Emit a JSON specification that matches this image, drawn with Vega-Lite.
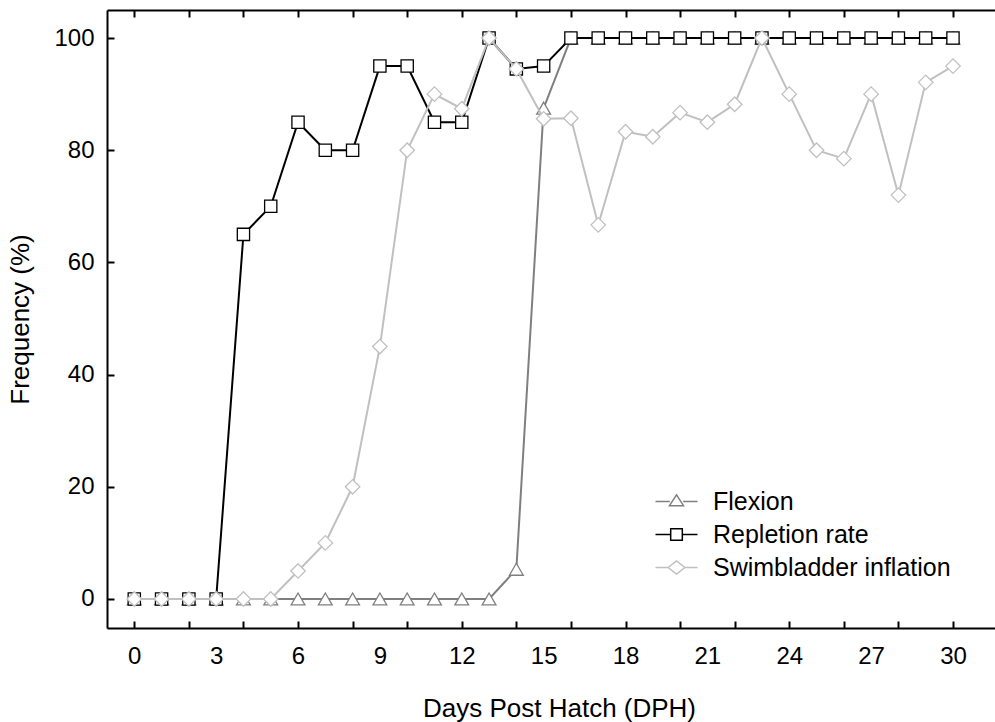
{
  "$schema": "https://vega.github.io/schema/vega-lite/v6.json",
  "width": 888,
  "height": 618,
  "autosize": {"type": "none"},
  "padding": {"left": 107, "top": 10, "right": 0, "bottom": 94},
  "background": "white",
  "config": {
    "view": {"stroke": null},
    "font": "Liberation Sans",
    "axis": {"grid": false, "domainColor": "black", "domainWidth": 2, "tickColor": "black", "tickWidth": 2, "labelColor": "black", "titleColor": "black", "labelFont": "Liberation Sans", "titleFont": "Liberation Sans", "labelFontSize": 24, "titleFontSize": 26, "titleFontWeight": "normal"}
  },
  "data": {
    "values": [
      {"day": 0, "series": "Flexion", "value": 0},
      {"day": 1, "series": "Flexion", "value": 0},
      {"day": 2, "series": "Flexion", "value": 0},
      {"day": 3, "series": "Flexion", "value": 0},
      {"day": 4, "series": "Flexion", "value": 0},
      {"day": 5, "series": "Flexion", "value": 0},
      {"day": 6, "series": "Flexion", "value": 0},
      {"day": 7, "series": "Flexion", "value": 0},
      {"day": 8, "series": "Flexion", "value": 0},
      {"day": 9, "series": "Flexion", "value": 0},
      {"day": 10, "series": "Flexion", "value": 0},
      {"day": 11, "series": "Flexion", "value": 0},
      {"day": 12, "series": "Flexion", "value": 0},
      {"day": 13, "series": "Flexion", "value": 0},
      {"day": 14, "series": "Flexion", "value": 5.3},
      {"day": 15, "series": "Flexion", "value": 87.5},
      {"day": 16, "series": "Flexion", "value": 100},
      {"day": 17, "series": "Flexion", "value": 100},
      {"day": 18, "series": "Flexion", "value": 100},
      {"day": 19, "series": "Flexion", "value": 100},
      {"day": 20, "series": "Flexion", "value": 100},
      {"day": 21, "series": "Flexion", "value": 100},
      {"day": 22, "series": "Flexion", "value": 100},
      {"day": 23, "series": "Flexion", "value": 100},
      {"day": 24, "series": "Flexion", "value": 100},
      {"day": 25, "series": "Flexion", "value": 100},
      {"day": 26, "series": "Flexion", "value": 100},
      {"day": 27, "series": "Flexion", "value": 100},
      {"day": 28, "series": "Flexion", "value": 100},
      {"day": 29, "series": "Flexion", "value": 100},
      {"day": 30, "series": "Flexion", "value": 100},
      {"day": 0, "series": "Repletion rate", "value": 0},
      {"day": 1, "series": "Repletion rate", "value": 0},
      {"day": 2, "series": "Repletion rate", "value": 0},
      {"day": 3, "series": "Repletion rate", "value": 0},
      {"day": 4, "series": "Repletion rate", "value": 65},
      {"day": 5, "series": "Repletion rate", "value": 70},
      {"day": 6, "series": "Repletion rate", "value": 85},
      {"day": 7, "series": "Repletion rate", "value": 80},
      {"day": 8, "series": "Repletion rate", "value": 80},
      {"day": 9, "series": "Repletion rate", "value": 95},
      {"day": 10, "series": "Repletion rate", "value": 95},
      {"day": 11, "series": "Repletion rate", "value": 85},
      {"day": 12, "series": "Repletion rate", "value": 85},
      {"day": 13, "series": "Repletion rate", "value": 100},
      {"day": 14, "series": "Repletion rate", "value": 94.5},
      {"day": 15, "series": "Repletion rate", "value": 95},
      {"day": 16, "series": "Repletion rate", "value": 100},
      {"day": 17, "series": "Repletion rate", "value": 100},
      {"day": 18, "series": "Repletion rate", "value": 100},
      {"day": 19, "series": "Repletion rate", "value": 100},
      {"day": 20, "series": "Repletion rate", "value": 100},
      {"day": 21, "series": "Repletion rate", "value": 100},
      {"day": 22, "series": "Repletion rate", "value": 100},
      {"day": 23, "series": "Repletion rate", "value": 100},
      {"day": 24, "series": "Repletion rate", "value": 100},
      {"day": 25, "series": "Repletion rate", "value": 100},
      {"day": 26, "series": "Repletion rate", "value": 100},
      {"day": 27, "series": "Repletion rate", "value": 100},
      {"day": 28, "series": "Repletion rate", "value": 100},
      {"day": 29, "series": "Repletion rate", "value": 100},
      {"day": 30, "series": "Repletion rate", "value": 100},
      {"day": 0, "series": "Swimbladder inflation", "value": 0},
      {"day": 1, "series": "Swimbladder inflation", "value": 0},
      {"day": 2, "series": "Swimbladder inflation", "value": 0},
      {"day": 3, "series": "Swimbladder inflation", "value": 0},
      {"day": 4, "series": "Swimbladder inflation", "value": 0},
      {"day": 5, "series": "Swimbladder inflation", "value": 0},
      {"day": 6, "series": "Swimbladder inflation", "value": 5},
      {"day": 7, "series": "Swimbladder inflation", "value": 10},
      {"day": 8, "series": "Swimbladder inflation", "value": 20},
      {"day": 9, "series": "Swimbladder inflation", "value": 45},
      {"day": 10, "series": "Swimbladder inflation", "value": 80},
      {"day": 11, "series": "Swimbladder inflation", "value": 90},
      {"day": 12, "series": "Swimbladder inflation", "value": 87.4},
      {"day": 13, "series": "Swimbladder inflation", "value": 100},
      {"day": 14, "series": "Swimbladder inflation", "value": 94.5},
      {"day": 15, "series": "Swimbladder inflation", "value": 85.6},
      {"day": 16, "series": "Swimbladder inflation", "value": 85.7},
      {"day": 17, "series": "Swimbladder inflation", "value": 66.7},
      {"day": 18, "series": "Swimbladder inflation", "value": 83.3},
      {"day": 19, "series": "Swimbladder inflation", "value": 82.4},
      {"day": 20, "series": "Swimbladder inflation", "value": 86.7},
      {"day": 21, "series": "Swimbladder inflation", "value": 85},
      {"day": 22, "series": "Swimbladder inflation", "value": 88.2},
      {"day": 23, "series": "Swimbladder inflation", "value": 100},
      {"day": 24, "series": "Swimbladder inflation", "value": 90},
      {"day": 25, "series": "Swimbladder inflation", "value": 80},
      {"day": 26, "series": "Swimbladder inflation", "value": 78.5},
      {"day": 27, "series": "Swimbladder inflation", "value": 90},
      {"day": 28, "series": "Swimbladder inflation", "value": 72},
      {"day": 29, "series": "Swimbladder inflation", "value": 92.1},
      {"day": 30, "series": "Swimbladder inflation", "value": 95}
    ]
  },
  "resolve": {"axis": {"x": "independent"}},
  "layer": [
    {
      "transform": [{"filter": "datum.series === 'Flexion'"}],
      "mark": {"type": "line", "color": "#7f7f7f", "strokeWidth": 2,
        "point": {"shape": "triangle-up", "size": 190, "filled": true, "fill": "white", "stroke": "#7f7f7f", "strokeWidth": 1.3}},
      "encoding": {
        "x": {"field": "day", "type": "quantitative", "scale": {"domain": [-1, 31.54], "nice": false, "zero": false},
          "axis": {"orient": "bottom", "values": [0,1,2,3,4,5,6,7,8,9,10,11,12,13,14,15,16,17,18,19,20,21,22,23,24,25,26,27,28,29,30],
            "tickOpacity": {"expr": "datum.value % 2 === 0 ? 1 : 0"},
            "labelExpr": "datum.value % 3 === 0 ? datum.label : ''",
            "tickSize": -7, "labelPadding": 23, "labelFlush": false, "labelOverlap": false,
            "title": "Days Post Hatch (DPH)", "titlePadding": 27, "titleX": 452}},
        "y": {"field": "value", "type": "quantitative", "scale": {"domain": [-5.17, 105], "nice": false, "zero": false},
          "axis": {"orient": "left", "values": [0, 20, 40, 60, 80, 100], "tickSize": -7, "labelPadding": 20, "labelFlush": false,
            "title": "Frequency (%)", "titlePadding": 20}}
      }
    },
    {
      "transform": [{"filter": "datum.series === 'Repletion rate'"}],
      "mark": {"type": "line", "color": "black", "strokeWidth": 2,
        "point": {"shape": "square", "size": 150, "filled": true, "fill": "white", "stroke": "black", "strokeWidth": 1.3}},
      "encoding": {
        "x": {"field": "day", "type": "quantitative", "axis": null},
        "y": {"field": "value", "type": "quantitative",
          "axis": {"orient": "left", "values": [0, 20, 40, 60, 80, 100], "tickSize": -7, "labelPadding": 20, "labelFlush": false,
            "title": "Frequency (%)", "titlePadding": 20}}
      }
    },
    {
      "transform": [{"filter": "datum.series === 'Swimbladder inflation'"}],
      "mark": {"type": "line", "color": "#c0c0c0", "strokeWidth": 2,
        "point": {"shape": "diamond", "size": 210, "filled": true, "fill": "white", "stroke": "#c0c0c0", "strokeWidth": 1.3}},
      "encoding": {
        "x": {"field": "day", "type": "quantitative", "axis": null},
        "y": {"field": "value", "type": "quantitative",
          "axis": {"orient": "left", "values": [0, 20, 40, 60, 80, 100], "tickSize": -7, "labelPadding": 20, "labelFlush": false,
            "title": "Frequency (%)", "titlePadding": 20}}
      }
    },
    {
      "mark": {"type": "point", "opacity": 0, "fill": "white", "filled": false},
      "encoding": {
        "x": {"field": "day", "type": "quantitative",
          "axis": {"orient": "top", "values": [0,2,4,6,8,10,12,14,16,18,20,22,24,26,28,30], "labels": false, "tickSize": -7, "title": null}},
        "y": {"field": "value", "type": "quantitative",
          "axis": {"orient": "left", "values": [0, 20, 40, 60, 80, 100], "tickSize": -7, "labelPadding": 20, "labelFlush": false,
            "title": "Frequency (%)", "titlePadding": 20}},
        "stroke": {"field": "series", "type": "nominal",
          "scale": {"domain": ["Flexion", "Repletion rate", "Swimbladder inflation"], "range": ["#7f7f7f", "black", "#c0c0c0"]},
          "legend": {"orient": "none", "legendX": 557, "legendY": 479, "title": null, "padding": 0, "labelFontSize": 25, "labelFont": "Liberation Sans", "labelColor": "black", "labelOffset": 24, "labelLimit": 0, "symbolSize": 196, "symbolStrokeWidth": 1.5, "symbolFillColor": "white", "rowPadding": 7, "symbolOpacity": 1}},
        "shape": {"field": "series", "type": "nominal",
          "scale": {"domain": ["Flexion", "Repletion rate", "Swimbladder inflation"],
            "range": ["M-3,0H-0.95M0.95,0H3M-1,0.6L0,-0.95L1,0.6Z", "M-3,0H-0.83M0.83,0H3M-0.83,-0.83H0.83V0.83H-0.83Z", "M-3,0H-1.19M1.19,0H3M-1.19,0L0,-0.95L1.19,0L0,0.95Z"]},
          "legend": {"orient": "none", "legendX": 557, "legendY": 479, "title": null, "padding": 0, "labelFontSize": 25, "labelFont": "Liberation Sans", "labelColor": "black", "labelOffset": 24, "labelLimit": 0, "symbolSize": 196, "symbolStrokeWidth": 1.5, "symbolFillColor": "white", "rowPadding": 7, "symbolOpacity": 1}}
      }
    }
  ]
}
